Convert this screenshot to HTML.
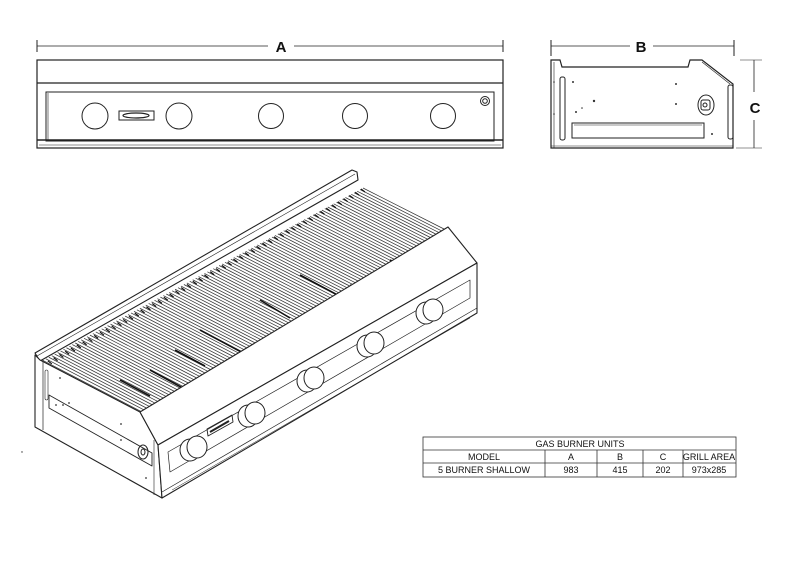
<!DOCTYPE html>
<html><head><style>
html,body{margin:0;padding:0;background:#fff;}
svg{display:block;}
text{font-family:"Liberation Sans",sans-serif;}
</style></head><body>
<svg width="800" height="565" viewBox="0 0 800 565" xmlns="http://www.w3.org/2000/svg">
<g fill="none" stroke="#222" stroke-width="1">
<!-- FRONT VIEW -->
<line x1="37" y1="46" x2="268" y2="46" stroke-width="0.8"/>
<line x1="294" y1="46" x2="503" y2="46" stroke-width="0.8"/>
<line x1="37" y1="40" x2="37" y2="52"/><line x1="503" y1="40" x2="503" y2="52"/>
<rect x="37" y="60" width="466" height="88" stroke-width="1.2"/>
<line x1="37" y1="83" x2="503" y2="83" stroke-width="1.2"/>
<rect x="46" y="92" width="448" height="49" stroke-width="1"/>
<line x1="48" y1="93" x2="48" y2="140" stroke-width="0.6"/>
<line x1="37" y1="140" x2="503" y2="140" stroke-width="1.4"/>
<line x1="39" y1="145" x2="501" y2="145" stroke-width="0.6"/>
<circle cx="95" cy="116" r="13"/><circle cx="179" cy="116" r="13"/>
<circle cx="271" cy="116" r="12.5"/><circle cx="355" cy="116" r="12.5"/>
<circle cx="443" cy="116" r="12.5"/>
<circle cx="485" cy="101" r="4.5"/><circle cx="485" cy="101" r="2.3"/>
<rect x="119" y="111" width="35" height="9"/>
<ellipse cx="136" cy="115.5" rx="13" ry="2.5" stroke-width="1.2"/>

<!-- SIDE VIEW -->
<line x1="551" y1="46" x2="630" y2="46" stroke-width="0.8"/>
<line x1="653" y1="46" x2="734" y2="46" stroke-width="0.8"/>
<line x1="551" y1="40" x2="551" y2="56"/><line x1="734" y1="40" x2="734" y2="56"/>
<path d="M551 148 L551 60 L560 60 L562 67 L688 67 L690 60 L702 60 L733 84 L733 148 Z" stroke-width="1.2"/>
<line x1="554" y1="62" x2="554" y2="148" stroke-width="0.6"/>
<line x1="551" y1="146" x2="733" y2="146" stroke-width="0.6"/>
<path d="M702 62 L730 84" stroke-width="0.6"/>
<rect x="560" y="77" width="5" height="63" rx="2"/>
<rect x="728" y="85" width="5" height="54" rx="2"/>
<rect x="572" y="123" width="132" height="15"/>
<line x1="574" y1="125" x2="702" y2="125" stroke-width="0.5"/>
<ellipse cx="706" cy="105" rx="8" ry="10"/>
<rect x="701" y="100" width="9" height="10" rx="2"/>
<circle cx="705" cy="105" r="2"/>
<line x1="740" y1="60" x2="762" y2="60" stroke-width="0.6"/>
<line x1="736" y1="148" x2="762" y2="148" stroke-width="0.6"/>
<line x1="754" y1="60" x2="754" y2="92" stroke-width="0.8"/>
<line x1="754" y1="120" x2="754" y2="148" stroke-width="0.8"/>
<g fill="#333" stroke="none">
<circle cx="573" cy="82" r="1"/><circle cx="594" cy="101" r="1.2"/><circle cx="576" cy="112" r="1"/>
<circle cx="582" cy="108" r="0.8"/><circle cx="676" cy="84" r="1"/><circle cx="676" cy="104" r="1"/>
<circle cx="712" cy="134" r="1"/><circle cx="554" cy="82" r="0.8"/><circle cx="554" cy="114" r="0.8"/>
</g>
</g>
<text x="281" y="52" font-size="15" font-weight="bold" text-anchor="middle" fill="#111">A</text>
<text x="641" y="52" font-size="15" font-weight="bold" text-anchor="middle" fill="#111">B</text>
<text x="755" y="113" font-size="15" font-weight="bold" text-anchor="middle" fill="#111">C</text>

<!-- ISOMETRIC -->
<g fill="none" stroke="#222" stroke-width="1" stroke-linejoin="round">
<g id="bars" stroke="#333" stroke-width="0.75"></g>
<!-- back rail -->
<path d="M35 353 L352 170 L357 172 L358 180 L40 361 Z" fill="#fff" stroke-width="1.1"/>
<line x1="37" y1="356" x2="355" y2="174" stroke-width="0.6"/>
<!-- side face -->
<path d="M35 355 L35 427 L162 498 L158 445 L140 412 L40 360 Z" fill="#fff" stroke-width="1.1"/>
<line x1="43" y1="360" x2="43" y2="430" stroke-width="0.7"/>
<rect x="45" y="370" width="3" height="30" rx="1.5" stroke-width="0.6"/>
<path d="M49 395 L152 453 L152 466 L49 408 Z" stroke-width="0.9"/>
<ellipse cx="143" cy="452" rx="5" ry="7"/>
<ellipse cx="143" cy="452" rx="2" ry="3"/>
<line x1="154" y1="440" x2="154" y2="495" stroke-width="0.6"/>
<!-- front control panel -->
<path d="M140 412 L448 227 L477 263 L158 445 Z" fill="#fff" stroke-width="1.1"/>
<path d="M158 445 L477 263 L477 313 L162 498 Z" fill="#fff" stroke-width="1.1"/>
<line x1="162" y1="492" x2="477" y2="308" stroke-width="0.7"/>
<path d="M168 452 L470 280 L470 298 L170 472 Z" stroke-width="0.7"/>
<line x1="172" y1="490" x2="470" y2="318" stroke-width="0.5"/>
<path d="M207 429 L232 415 L233 422 L208 436 Z" stroke-width="0.9"/>
<line x1="210" y1="432" x2="229" y2="421" stroke-width="2"/>
</g>
<g fill="#fff" stroke="#222" stroke-width="1">
<ellipse cx="190" cy="450" rx="10" ry="11"/><ellipse cx="197" cy="447" rx="10" ry="11"/>
<ellipse cx="248" cy="416" rx="10" ry="11"/><ellipse cx="255" cy="413" rx="10" ry="11"/>
<ellipse cx="307" cy="381" rx="10" ry="11"/><ellipse cx="314" cy="378" rx="10" ry="11"/>
<ellipse cx="367" cy="346" rx="10" ry="11"/><ellipse cx="374" cy="343" rx="10" ry="11"/>
<ellipse cx="426" cy="313" rx="10" ry="11"/><ellipse cx="433" cy="310" rx="10" ry="11"/>
</g>
<g fill="#333">
<circle cx="60" cy="378" r="0.9"/><circle cx="56" cy="405" r="0.9"/><circle cx="63" cy="405" r="0.9"/><circle cx="69" cy="403" r="0.9"/>
<circle cx="121" cy="424" r="0.9"/><circle cx="121" cy="440" r="0.9"/><circle cx="146" cy="478" r="0.9"/>
<circle cx="22" cy="452" r="0.7"/>
</g>

<!-- TABLE -->
<g fill="none" stroke="#333" stroke-width="0.8">
<rect x="423" y="437" width="313" height="40"/>
<line x1="423" y1="450" x2="736" y2="450"/>
<line x1="423" y1="463" x2="736" y2="463"/>
<line x1="545" y1="450" x2="545" y2="477"/>
<line x1="597" y1="450" x2="597" y2="477"/>
<line x1="643" y1="450" x2="643" y2="477"/>
<line x1="683" y1="450" x2="683" y2="477"/>
</g>
<g font-size="9" fill="#111" text-anchor="middle">
<text x="580" y="447">GAS BURNER UNITS</text>
<text x="484" y="460">MODEL</text><text x="571" y="460">A</text><text x="620" y="460">B</text><text x="663" y="460">C</text><text x="709" y="460">GRILL AREA</text>
<text x="484" y="473">5 BURNER SHALLOW</text><text x="571" y="473">983</text><text x="620" y="473">415</text><text x="663" y="473">202</text><text x="709" y="473">973x285</text>
</g>
<script>
(function(){
var g=document.getElementById('bars'),ns='http://www.w3.org/2000/svg',n=110;
function L(a,b,c,d,s,w){var l=document.createElementNS(ns,'line');l.setAttribute('x1',a);l.setAttribute('y1',b);l.setAttribute('x2',c);l.setAttribute('y2',d);if(s){l.setAttribute('stroke',s);l.setAttribute('stroke-width',w);}g.appendChild(l);}
for(var i=0;i<=n;i++){var t=i/n;
L(40+(363-40)*t,362+(188-362)*t,138+(444-138)*t,413+(229-413)*t);}
for(var i=0;i<=n;i+=2){var t=i/n;var x=42+(361-42)*t,y=364+(189-364)*t;L(x,y,x+4,y+3,'#111','1.2');}
var segs=[[100,396,135,414],[200,330,260,362],[300,275,360,307],[230,360,270,382],[330,300,380,328],[150,370,190,392],[260,300,290,318],[390,260,420,277],[120,380,150,396],[280,330,310,346],[350,285,372,297],[175,350,205,366]];
segs.forEach(function(s){L(s[0],s[1],s[2],s[3],'#111','1.6');});
})();
</script>
</svg>
</body></html>
